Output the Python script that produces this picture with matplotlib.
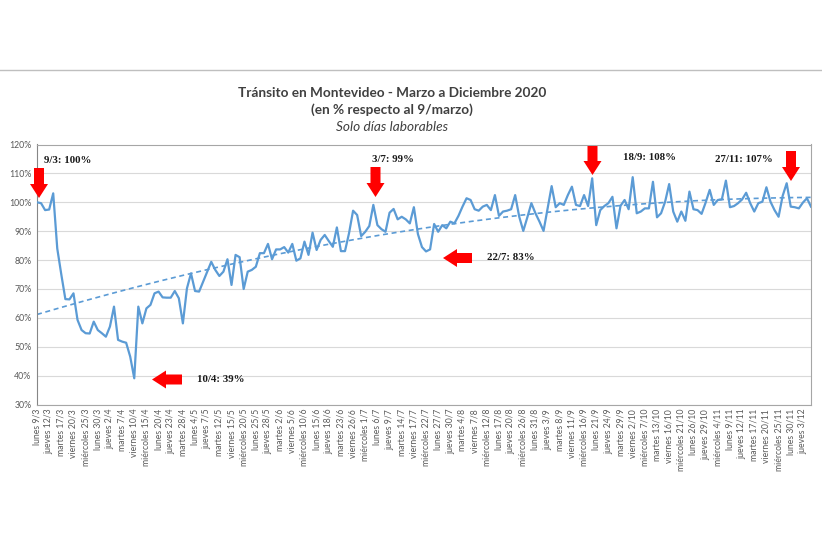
import numpy as np
import matplotlib
matplotlib.use("Agg")
import matplotlib.pyplot as plt
from matplotlib.patches import FancyArrow
from matplotlib.lines import Line2D

# ---------------- data ----------------
values = [
    100, 99.7, 97.3, 97.5, 103.1, 84, 75, 66.5, 66.4, 68.5,
    59.3, 55.8, 54.7, 54.6, 58.7, 55.8, 54.7, 53.5, 57, 63.9,
    52.4, 51.8, 51.4, 46.6, 39.1, 63.9, 58.1, 63.3, 64.5, 68.5,
    69.1, 67.1, 67.0, 67.0, 69.3, 66.8, 58.1, 70.2, 75.4, 69.3,
    69.1, 72.5, 76, 79.4, 76.6, 74.5, 76, 80.3, 71.4, 81.8,
    81, 70, 76, 76.6, 77.7, 82.4, 82.4, 85.6, 80.3, 83.7,
    83.7, 84.5, 82.6, 85.6, 79.8, 80.6, 86.4, 81.8, 89.5, 83.5,
    87, 88.7, 86.6, 84.6, 91.3, 83.1, 83.1, 89.3, 97.1, 95.6,
    88.3, 89.8, 91.8, 99.1, 92.1, 90.7, 89.8, 96.4, 97.7, 94.1,
    95, 94.1, 92.7, 98.3, 89, 84.5, 83, 83.7, 92.5, 89.8,
    92.1, 91, 93.3, 92.7, 95.3, 98.5, 101.4, 100.8, 97.6, 97.1,
    98.5, 99.1, 97.3, 102.5, 95.3, 96.8, 97.1, 97.6, 102.5, 95,
    90.1, 94.8, 99.7, 96.2, 93.3, 90.1, 97.9, 105.6, 98.3, 99.7,
    99.1, 102.5, 105.4, 99.1, 98.7, 102.5, 98.7, 108.3, 92.1, 97.3,
    98.7, 99.7, 101.9, 91, 98.8, 100.8, 97.6, 108.7, 96.2, 96.8,
    97.9, 97.9, 107.1, 94.8, 96.2, 100.2, 106.3, 96.8, 93.3, 96.8,
    93.6, 103.7, 97.6, 97.3, 96, 99.9, 104.3, 99.1, 100.8, 101,
    107.5, 98.3, 98.7, 99.7, 101, 103.3, 99.7, 96.8, 99.7, 100.2,
    105.2, 100.2, 97.3, 95, 102.2, 106.6, 98.5, 98.3, 97.9, 99.9,
    101.4, 98.5,
]

tick_labels = [
    "lunes 9/3", "jueves 12/3", "martes 17/3", "viernes 20/3", "miércoles 25/3",
    "lunes 30/3", "jueves 2/4", "martes 7/4", "viernes 10/4", "miércoles 15/4",
    "lunes 20/4", "jueves 23/4", "martes 28/4", "lunes 4/5", "jueves 7/5",
    "martes 12/5", "viernes 15/5", "miércoles 20/5", "lunes 25/5", "jueves 28/5",
    "martes 2/6", "viernes 5/6", "miércoles 10/6", "lunes 15/6", "jueves 18/6",
    "martes 23/6", "viernes 26/6", "miércoles 1/7", "lunes 6/7", "jueves 9/7",
    "martes 14/7", "viernes 17/7", "miércoles 22/7", "lunes 27/7", "jueves 30/7",
    "martes 4/8", "viernes 7/8", "miércoles 12/8", "lunes 17/8", "jueves 20/8",
    "miércoles 26/8", "lunes 31/8", "jueves 3/9", "martes 8/9", "viernes 11/9",
    "miércoles 16/9", "lunes 21/9", "jueves 24/9", "martes 29/9", "viernes 2/10",
    "miércoles 7/10", "martes 13/10", "viernes 16/10", "miércoles 21/10", "lunes 26/10",
    "jueves 29/10", "miércoles 4/11", "lunes 9/11", "jueves 12/11", "martes 17/11",
    "viernes 20/11", "miércoles 25/11", "lunes 30/11", "jueves 3/12",
]
tick_step = 3

y_ticks = [30, 40, 50, 60, 70, 80, 90, 100, 110, 120]

annotations = ["9/3: 100%", "3/7: 99%", "22/7: 83%", "10/4: 39%", "18/9: 108%", "27/11: 107%"]

title_lines = ["Tránsito en Montevideo - Marzo a Diciembre 2020",
               "(en % respecto al 9/marzo)",
               "Solo días laborables"]

# ---------------- figure ----------------
W, H = 822, 548
fig = plt.figure(figsize=(W / 100, H / 100), dpi=100)
fig.patch.set_facecolor("white")

def fx(px):
    return px / W

def fy(py):
    return 1 - py / H

left, right, top, bottom = 37, 811, 144.5, 404.6
ax = fig.add_axes([fx(left), fy(bottom), fx(right) - fx(left), fy(top) - fy(bottom)])

x = np.arange(len(values))
y = np.array(values)

blue = "#5B9BD5"
ax.plot(x, y, color=blue, lw=1.6, zorder=3, solid_joinstyle="round")

# polynomial (order 2) trend line fitted to the series
coef = np.polyfit(x, y, 2)
ax.plot(x, np.polyval(coef, x), color=blue, lw=1.2, ls=(0, (3, 2.2)), zorder=2)

ax.set_xlim(0, len(values) - 1)
ax.set_ylim(30, 120)
ax.set_yticks(y_ticks)
ax.set_yticklabels([f"{v}%" for v in y_ticks])
ax.set_xticks(np.arange(0, len(tick_labels) * tick_step, tick_step))
ax.set_xticklabels(tick_labels, rotation=90)
ax.grid(axis="y", color="#D9D9D9", lw=0.8, zorder=0)
ax.set_axisbelow(True)
ax.tick_params(axis="both", length=0, colors="#595959", labelsize=6.3)
ax.tick_params(axis="x", pad=3, labelsize=6.2)
ax.tick_params(axis="y", pad=4)
for lab in ax.get_xticklabels() + ax.get_yticklabels():
    lab.set_fontfamily("Lato")
for s in ax.spines.values():
    s.set_color("#A6A6A6")
    s.set_linewidth(0.8)
ax.spines["left"].set_color("#868686")

# top separator line of the chart block
fig.add_artist(Line2D([0, 1], [fy(70), fy(70)], transform=fig.transFigure,
                      color="#BFBFBF", lw=1.0))

# titles
fig.text(fx(392), fy(93), title_lines[0], ha="center", va="center",
         fontsize=9.8, fontweight="bold", color="#404040", family="Lato")
fig.text(fx(392), fy(110), title_lines[1], ha="center", va="center",
         fontsize=9.8, fontweight="bold", color="#404040", family="Lato")
fig.text(fx(392), fy(127), title_lines[2], ha="center", va="center",
         fontsize=9.8, fontstyle="italic", color="#404040", family="Lato")

# annotation texts
ann_pos = [(44, 161, "left"), (372, 159, "left"), (487, 257, "left"),
           (197, 379, "left"), (623, 158, "left"), (715, 160, "left")]
for t, (px, py, ha) in zip(annotations, ann_pos):
    fig.text(fx(px), fy(py), t, ha=ha, va="center", fontsize=7.8,
             fontweight="bold", color="#1a1a1a", family="Liberation Serif")

# red arrows (tail x, tail y, tip x, tip y) in pixels
arrows = [(39, 168, 39, 198), (375.5, 167, 375.5, 197), (472, 258, 443, 258),
          (182, 379.5, 152, 379.5), (592.5, 146, 592.5, 175), (791, 151, 791, 181)]
for (x0, y0, x1, y1) in arrows:
    a = FancyArrow(x0 / 100, (H - y0) / 100, (x1 - x0) / 100, -(y1 - y0) / 100,
                   width=0.10, head_width=0.18, head_length=0.14,
                   length_includes_head=True, transform=fig.dpi_scale_trans,
                   color="#FF0000", lw=0)
    fig.add_artist(a)

fig.savefig("out.png", dpi=100, facecolor="white")
